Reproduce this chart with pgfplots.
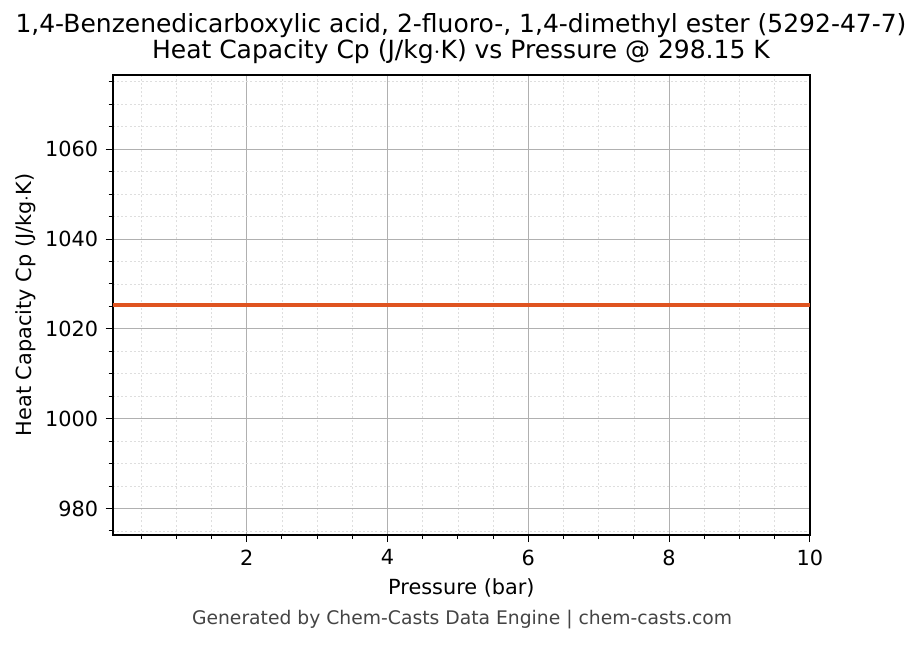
\documentclass[border=0pt]{standalone}
\usepackage{pgfplots}
\pgfplotsset{compat=1.18}
\usepackage{fontspec}
\setmainfont{DejaVu Sans}
\definecolor{cpline}{HTML}{DF5420}
\definecolor{footgray}{HTML}{444444}
\begin{document}
\begin{tikzpicture}
\path[use as bounding box] (0,0) rectangle (443.1pt,309.2pt);
\begin{axis}[
  at={(54.2pt,52.4pt)}, anchor=south west,
  scale only axis, width=334.6pt, height=220.8pt,
  xmin=0.1, xmax=10, ymin=974.1, ymax=1076.5,
  xtick={2,4,6,8,10}, ytick={980,1000,1020,1040,1060},
  minor xtick={0.5,1,...,9.5},
  minor ytick={975,985,990,995,1005,1010,1015,1025,1030,1035,1045,1050,1055,1065,1070,1075},
  tick align=outside, tick pos=left,
  major tick length=3.5pt, minor tick length=2pt,
  every tick/.style={black, line width=0.4pt},
  grid=both,
  major grid style={draw=black!31, line width=0.4pt},
  minor grid style={draw=black!13, line width=0.3pt, dash pattern=on 1pt off 1pt},
  axis line style={black, line width=0.6pt},
  tick label style={font=\fontsize{10}{12}\selectfont},
  /pgf/number format/assume math mode=true,
  /pgf/number format/1000 sep={},
]
\addplot[cpline, line width=1.5pt] coordinates {(0.1,1025.3) (10,1025.3)};
\end{axis}
\node[font=\fontsize{12}{12.5}\selectfont, align=center, inner sep=0pt] at (221.3pt,290.6pt) {1,4-Benzenedicarboxylic acid, 2-fluoro-, 1,4-dimethyl ester (5292-47-7)\\Heat Capacity Cp (J/kg$\cdot$K) vs Pressure @ 298.15 K};
\node[font=\fontsize{10}{12}\selectfont] at (221.5pt,27pt) {Pressure (bar)};
\node[font=\fontsize{10}{12}\selectfont, rotate=90] at (12.5pt,162.8pt) {Heat Capacity Cp (J/kg$\cdot$K)};
\node[font=\fontsize{9}{11}\selectfont, text=footgray] at (221.8pt,12pt) {Generated by Chem-Casts Data Engine | chem-casts.com};
\end{tikzpicture}
\end{document}
